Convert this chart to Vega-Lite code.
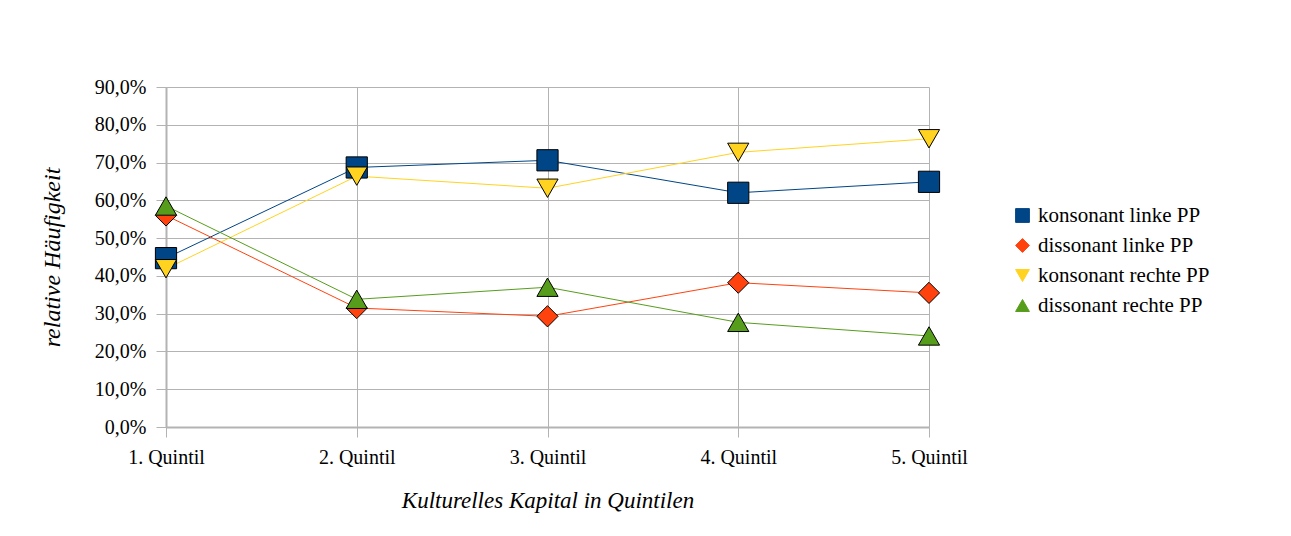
{
  "$schema": "https://vega.github.io/schema/vega-lite/v6.json",
  "width": 763,
  "height": 340,
  "autosize": {"type": "none"},
  "padding": {"left": 166, "top": 87, "right": 362, "bottom": 109},
  "background": "white",
  "config": {
    "view": {"stroke": null},
    "font": "Liberation Serif"
  },
  "data": {
    "values": [
      {"q": "1. Quintil", "s": "konsonant linke PP", "v": 0.447},
      {"q": "2. Quintil", "s": "konsonant linke PP", "v": 0.687},
      {"q": "3. Quintil", "s": "konsonant linke PP", "v": 0.706},
      {"q": "4. Quintil", "s": "konsonant linke PP", "v": 0.620},
      {"q": "5. Quintil", "s": "konsonant linke PP", "v": 0.649},
      {"q": "1. Quintil", "s": "dissonant linke PP", "v": 0.560},
      {"q": "2. Quintil", "s": "dissonant linke PP", "v": 0.315},
      {"q": "3. Quintil", "s": "dissonant linke PP", "v": 0.293},
      {"q": "4. Quintil", "s": "dissonant linke PP", "v": 0.382},
      {"q": "5. Quintil", "s": "dissonant linke PP", "v": 0.355},
      {"q": "1. Quintil", "s": "konsonant rechte PP", "v": 0.419},
      {"q": "2. Quintil", "s": "konsonant rechte PP", "v": 0.664},
      {"q": "3. Quintil", "s": "konsonant rechte PP", "v": 0.632},
      {"q": "4. Quintil", "s": "konsonant rechte PP", "v": 0.727},
      {"q": "5. Quintil", "s": "konsonant rechte PP", "v": 0.763},
      {"q": "1. Quintil", "s": "dissonant rechte PP", "v": 0.585},
      {"q": "2. Quintil", "s": "dissonant rechte PP", "v": 0.338},
      {"q": "3. Quintil", "s": "dissonant rechte PP", "v": 0.370},
      {"q": "4. Quintil", "s": "dissonant rechte PP", "v": 0.277},
      {"q": "5. Quintil", "s": "dissonant rechte PP", "v": 0.241}
    ]
  },
  "encoding": {
    "x": {
      "field": "q", "type": "ordinal",
      "scale": {"type": "point", "padding": 0},
      "axis": {
        "title": "Kulturelles Kapital in Quintilen",
        "titleFont": "Liberation Serif", "titleFontStyle": "italic", "titleFontWeight": "normal",
        "titleFontSize": 23, "titleColor": "black", "titlePadding": 22,
        "labelFont": "Liberation Serif", "labelFontSize": 20, "labelColor": "black", "labelAngle": 0,
        "labelPadding": 10,
        "grid": true, "gridColor": "#b3b3b3", "gridWidth": 1,
        "domainColor": "#b3b3b3", "domainWidth": 2,
        "tickColor": "#b3b3b3", "tickSize": 10
      }
    },
    "y": {
      "field": "v", "type": "quantitative",
      "scale": {"domain": [0, 0.9], "nice": false},
      "axis": {
        "title": "relative Häufigkeit",
        "titleFont": "Liberation Serif", "titleFontStyle": "italic", "titleFontWeight": "normal",
        "titleFontSize": 24, "titleColor": "black", "titlePadding": 30,
        "values": [0, 0.1, 0.2, 0.3, 0.4, 0.5, 0.6, 0.7, 0.8, 0.9],
        "labelExpr": "replace(format(datum.value, '.1%'), '.', ',')",
        "labelFont": "Liberation Serif", "labelFontSize": 20, "labelColor": "black",
        "labelPadding": 10,
        "grid": true, "gridColor": "#b3b3b3", "gridWidth": 1,
        "domainColor": "#b3b3b3", "domainWidth": 2,
        "tickColor": "#b3b3b3", "tickSize": 10
      }
    },
    "color": {
      "field": "s", "type": "nominal",
      "sort": ["konsonant linke PP", "dissonant linke PP", "konsonant rechte PP", "dissonant rechte PP"],
      "scale": {
        "domain": ["konsonant linke PP", "dissonant linke PP", "konsonant rechte PP", "dissonant rechte PP"],
        "range": ["#004586", "#ff420e", "#ffd320", "#579d1c"]
      },
      "legend": {
        "title": null, "orient": "none", "legendX": 846, "legendY": 118,
        "labelFont": "Liberation Serif", "labelFontSize": 21, "labelColor": "black", "labelLimit": 400,
        "rowPadding": 8, "symbolSize": 190, "symbolStrokeColor": "black", "symbolStrokeWidth": 1,
        "labelOffset": 5
      }
    },
    "shape": {
      "field": "s", "type": "nominal",
      "scale": {
        "domain": ["konsonant linke PP", "dissonant linke PP", "konsonant rechte PP", "dissonant rechte PP"],
        "range": ["square", "diamond", "triangle-down", "triangle-up"]
      },
      "legend": null
    }
  },
  "layer": [
    {"mark": {"type": "line", "strokeWidth": 1}, "encoding": {"shape": {"value": null}}},
    {"mark": {"type": "point", "filled": true, "opacity": 1, "stroke": "black", "strokeWidth": 1, "size": 450}}
  ]
}
